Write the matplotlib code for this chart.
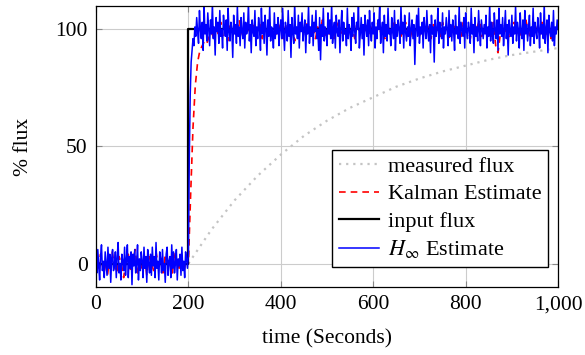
import matplotlib
matplotlib.use("Agg")
import matplotlib.pyplot as plt
import matplotlib.ticker as ticker
import numpy as np

# H-infinity estimate, one value every 2 s (0..1000)
hinf_t = np.arange(0, 1001, 2)
hinf = [
    2, -4, 6, -1, -7, 3, 8, -3, 1, -6, 5, 0, -5, 7, -2, 4, -8, 2, 6, -3,
    -1, 5, -6, 3, 9, -4, 0, -7, 4, 1, -3, 7, -5, 2, 8, -6, 3, -2, 5, -9,
    4, -1, 6, -4, 0, 8, -7, 2, -3, 5, 1, -6, 7, -2, 3, -8, 6, 0, -4, 4,
    -5, 7, -1, 3, -6, 9, -2, 1, -7, 5, 2, -4, 6, -3, 0, -8, 4, 7, -5, 1,
    3, -6, 8, -2, 5, -4, 0, 6, -7, 2, -1, 4, -5, 7, -3, 1, -6, 5, 2, -2,
    4, 45, 72, 86, 91, 96, 93, 101, 97, 105, 99, 94, 108, 100, 96, 103, 91, 110, 98, 102,
    95, 107, 100, 93, 104, 98, 111, 96, 101, 89, 105, 99, 103, 94, 108, 97, 100, 92, 106, 101,
    97, 104, 91, 109, 99, 95, 103, 100, 88, 106, 98, 102, 94, 110, 97, 101, 93, 105, 99, 96,
    107, 92, 103, 98, 100, 111, 95, 102, 90, 104, 99, 97, 108, 93, 101, 96, 105, 100, 91, 109,
    98, 103, 94, 106, 100, 89, 104, 97, 110, 95, 101, 99, 92, 107, 96, 102, 98, 105, 93, 100,
    104, 96, 109, 99, 91, 103, 100, 95, 108, 97, 102, 88, 105, 99, 94, 111, 98, 101, 96, 106,
    92, 103, 99, 107, 95, 100, 104, 90, 102, 98, 110, 94, 101, 97, 106, 93, 103, 99, 108, 96,
    100, 91, 105, 87, 102, 97, 109, 95, 101, 99, 93, 107, 98, 104, 96, 111, 94, 100, 103, 92,
    106, 99, 97, 104, 90, 101, 108, 95, 103, 98, 100, 93, 109, 96, 102, 99, 91, 105, 97, 107,
    99, 94, 103, 100, 110, 92, 98, 105, 96, 102, 89, 106, 101, 97, 104, 93, 108, 99, 95, 103,
    98, 107, 92, 101, 96, 104, 100, 111, 94, 99, 103, 90, 106, 97, 102, 95, 109, 98, 100, 93,
    105, 99, 96, 108, 91, 102, 97, 104, 100, 94, 110, 98, 103, 92, 106, 99, 95, 101, 97, 107,
    93, 100, 104, 96, 102, 85, 99, 106, 97, 109, 94, 101, 98, 103, 92, 105, 100, 96, 108, 99,
    95, 102, 90, 106, 98, 101, 86, 104, 97, 100, 109, 94, 103, 99, 96, 107, 92, 101, 98, 105,
    100, 93, 108, 97, 102, 95, 104, 99, 91, 106, 98, 101, 96, 110, 94, 103, 100, 97, 105, 92,
    107, 99, 96, 103, 100, 94, 109, 98, 102, 90, 105, 97, 101, 95, 108, 99, 93, 104, 100, 96,
    102, 98, 106, 92, 101, 97, 111, 95, 103, 99, 94, 107, 100, 96, 104, 91, 109, 98, 102, 97,
    105, 93, 100, 108, 96, 102, 89, 104, 99, 97, 106, 94, 101, 98, 110, 95, 103, 100, 92, 107,
    99, 96, 104, 91, 108, 98, 102, 95, 100, 106, 93, 101, 97, 109, 94, 103, 99, 96, 105, 100,
    92, 107, 98, 102, 96, 111, 94, 100, 104, 90, 106, 99, 97, 103, 95, 108, 93, 101, 98, 104,
    100,
]

# Kalman estimate, one value every 5 s
kalman_t = np.arange(0, 1001, 5)
kalman = [
    1, -3, 4, -2, 0, -5, 3, 5, -1, -4,
    3, 0, -6, 2, 4, -3, 1, 6, -4, 2,
    -2, 4, -5, 3, 0, -3, 5, -1, 2, -4,
    4, -2, 1, -5, 5, 0, -2, 3, -4, 2,
    0, 30, 58, 76, 86, 91, 93, 95, 94, 97,
    99, 96, 101, 98, 103, 97, 100, 95, 102, 99,
    101, 97, 104, 99, 96, 102, 100, 98, 103, 97,
    100, 102, 96, 101, 99, 104, 97, 100, 98, 102,
    99, 96, 101, 103, 98, 100, 95, 102, 99, 101,
    97, 103, 100, 98, 102, 96, 101, 99, 104, 97,
    100, 98, 102, 96, 101, 103, 99, 97, 100, 102,
    98, 101, 96, 103, 99, 100, 97, 102, 98, 101,
    100, 97, 103, 99, 101, 96, 102, 100, 98, 104,
    99, 101, 97, 100, 103, 98, 96, 101, 99, 102,
    97, 100, 104, 98, 101, 96, 102, 99, 100, 97,
    103, 99, 101, 96, 100, 102, 98, 101, 97, 103,
    99, 100, 96, 102, 98, 101, 104, 97, 100, 99,
    101, 97, 103, 93, 90, 98, 102, 99, 101, 96,
    100, 103, 98, 101, 97, 99, 104, 100, 96, 102,
    99, 101, 97, 103, 100, 98, 102, 96, 101, 99,
    100,
]

# measured flux (slow response)
meas_t = [0, 200, 250, 300, 350, 400, 450, 500, 550, 600, 650, 700, 750, 800, 850, 900, 950, 1000]
meas = [0, 0, 14.5, 27, 37.5, 46.5, 54.5, 61, 66.5, 71, 75.5, 79, 82, 84.5, 87, 89, 90.5, 92]

# input step
input_t = [0, 200, 200, 1000]
input_flux = [0, 0, 100, 100]

plt.rcParams['font.family'] = ['Liberation Serif', 'DejaVu Serif']
plt.rcParams['mathtext.fontset'] = 'stix'
fs = 15.5

fig = plt.figure(figsize=(5.85, 3.55), dpi=100)
ax = fig.add_axes([0.164, 0.1915, 0.79, 0.792])

ax.plot(meas_t, meas, color='#c4c4c4', lw=1.6, ls=(0, (1, 2.2)), label='measured flux')
ax.plot(kalman_t, kalman, color='red', lw=1.2, ls=(0, (4, 3)), label='Kalman Estimate')
ax.plot(input_t, input_flux, color='black', lw=1.6, label='input flux')
ax.plot(hinf_t, hinf, color='blue', lw=1.1, label=r'$H_\infty$ Estimate')

ax.set_xlim(0, 1000)
ax.set_ylim(-10, 110)
ax.set_xticks([0, 200, 400, 600, 800, 1000])
ax.set_yticks([0, 50, 100])
ax.xaxis.set_major_formatter(ticker.FuncFormatter(lambda v, p: f"{v:,.0f}"))
ax.grid(True, color='#cccccc', lw=0.8)
ax.set_axisbelow(True)
ax.tick_params(direction='in', length=4, color='#888888', top=True, right=True, labelsize=fs, pad=6)
for s in ax.spines.values():
    s.set_linewidth(0.9)

ax.set_xlabel('time (Seconds)', fontsize=fs, labelpad=11)
ax.set_ylabel('% flux', fontsize=fs, labelpad=16)

ax.legend(loc='lower right', bbox_to_anchor=(0.978, 0.071), borderaxespad=0,
          fancybox=False, edgecolor='black', framealpha=1, fontsize=16,
          handlelength=1.8, handletextpad=0.4, labelspacing=0.3, borderpad=0.3)

fig.savefig('out.png', dpi=100)
